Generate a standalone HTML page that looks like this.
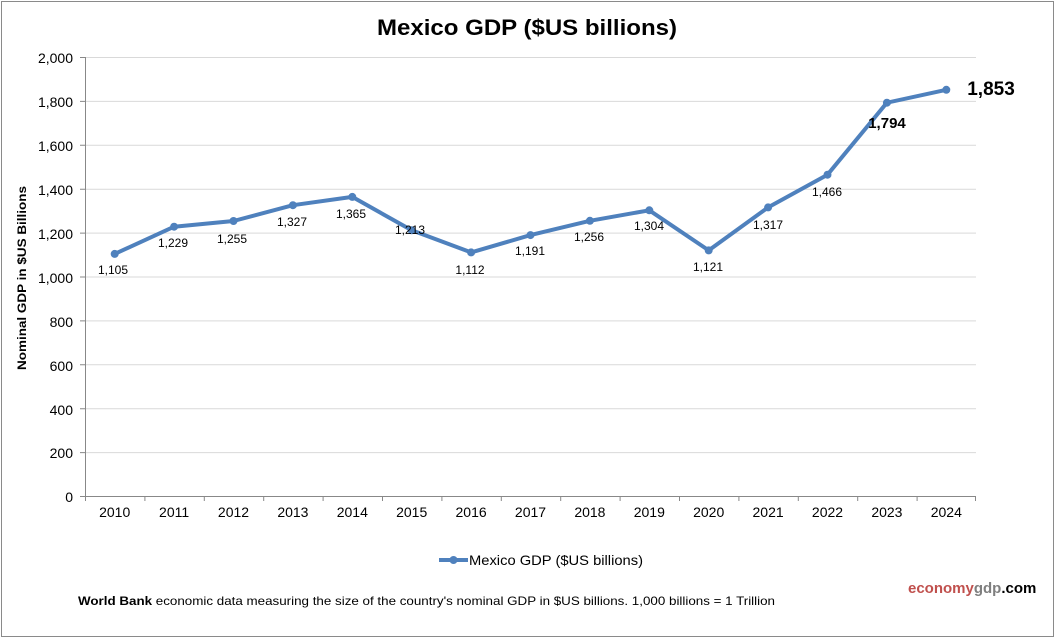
<!DOCTYPE html>
<html><head><meta charset="utf-8"><style>
html,body{margin:0;padding:0;background:#fff;}
svg{display:block;font-family:"Liberation Sans",Arial,sans-serif;}
</style></head><body>
<svg width="1056" height="639" viewBox="0 0 1056 639">
<rect x="1.5" y="1.5" width="1052" height="635" fill="#fff" stroke="#8a8a8a" stroke-width="1"/>
<text x="377" y="35" font-size="22" font-weight="bold" textLength="300" lengthAdjust="spacingAndGlyphs">Mexico GDP ($US billions)</text>
<g stroke="#d9d9d9" stroke-width="1">
<line x1="85" x2="976" y1="57.5" y2="57.5"/>
<line x1="85" x2="976" y1="101.4" y2="101.4"/>
<line x1="85" x2="976" y1="145.3" y2="145.3"/>
<line x1="85" x2="976" y1="189.2" y2="189.2"/>
<line x1="85" x2="976" y1="233.1" y2="233.1"/>
<line x1="85" x2="976" y1="277" y2="277"/>
<line x1="85" x2="976" y1="320.9" y2="320.9"/>
<line x1="85" x2="976" y1="364.8" y2="364.8"/>
<line x1="85" x2="976" y1="408.7" y2="408.7"/>
<line x1="85" x2="976" y1="452.6" y2="452.6"/>
</g>
<g stroke="#888" stroke-width="1">
<line x1="85.5" x2="85.5" y1="57" y2="496.5"/>
<line x1="85" x2="976" y1="496.5" y2="496.5"/>
<path d="M80 57.5H85M80 101.4H85M80 145.3H85M80 189.2H85M80 233.1H85M80 277H85M80 320.9H85M80 364.8H85M80 408.7H85M80 452.6H85M80 496.5H85"/>
<path d="M85.5 496V501M144.9 496V501M204.3 496V501M263.7 496V501M323.1 496V501M382.5 496V501M441.9 496V501M501.3 496V501M560.7 496V501M620.1 496V501M679.5 496V501M738.9 496V501M798.3 496V501M857.7 496V501M917.1 496V501M975.5 496V501"/>
</g>
<g font-size="14" text-anchor="end" fill="#000">
<text x="73" y="63">2,000</text><text x="73" y="107">1,800</text><text x="73" y="151">1,600</text>
<text x="73" y="195">1,400</text><text x="73" y="239">1,200</text><text x="73" y="283">1,000</text>
<text x="73" y="327">800</text><text x="73" y="371">600</text><text x="73" y="415">400</text>
<text x="73" y="458">200</text><text x="73" y="502">0</text>
</g>
<g font-size="14" text-anchor="middle">
<text x="114.7" y="517">2010</text><text x="174.1" y="517">2011</text><text x="233.5" y="517">2012</text>
<text x="292.9" y="517">2013</text><text x="352.3" y="517">2014</text><text x="411.7" y="517">2015</text>
<text x="471.1" y="517">2016</text><text x="530.5" y="517">2017</text><text x="589.9" y="517">2018</text>
<text x="649.3" y="517">2019</text><text x="708.7" y="517">2020</text><text x="768.1" y="517">2021</text>
<text x="827.5" y="517">2022</text><text x="886.9" y="517">2023</text><text x="946.3" y="517">2024</text>
</g>
<text transform="translate(26,370) rotate(-90)" font-size="12" font-weight="bold" textLength="184" lengthAdjust="spacingAndGlyphs">Nominal GDP in $US  Billions</text>
<polyline fill="none" stroke="#4f81bd" stroke-width="4" stroke-linejoin="round" points="114.7,253.9 174.1,226.7 233.5,221 292.9,205.2 352.3,196.9 411.7,230.3 471.1,252.4 530.5,235.1 589.9,220.8 649.3,210.3 708.7,250.4 768.1,207.4 827.5,174.7 886.9,102.7 946.3,89.8"/>
<g fill="#4f81bd">
<circle cx="114.7" cy="253.9" r="4"/><circle cx="174.1" cy="226.7" r="4"/><circle cx="233.5" cy="221" r="4"/>
<circle cx="292.9" cy="205.2" r="4"/><circle cx="352.3" cy="196.9" r="4"/><circle cx="411.7" cy="230.3" r="4"/>
<circle cx="471.1" cy="252.4" r="4"/><circle cx="530.5" cy="235.1" r="4"/><circle cx="589.9" cy="220.8" r="4"/>
<circle cx="649.3" cy="210.3" r="4"/><circle cx="708.7" cy="250.4" r="4"/><circle cx="768.1" cy="207.4" r="4"/>
<circle cx="827.5" cy="174.7" r="4"/><circle cx="886.9" cy="102.7" r="4"/><circle cx="946.3" cy="89.8" r="4"/>
</g>
<g font-size="12" text-anchor="middle">
<text x="113" y="274">1,105</text><text x="173" y="247">1,229</text><text x="232" y="243">1,255</text>
<text x="292" y="226">1,327</text><text x="351" y="218">1,365</text><text x="410" y="234">1,213</text>
<text x="470" y="274">1,112</text><text x="530" y="255">1,191</text><text x="589" y="241">1,256</text>
<text x="649" y="230">1,304</text><text x="708" y="271">1,121</text><text x="768" y="229">1,317</text>
<text x="827" y="196">1,466</text>
</g>
<text x="887" y="128" font-size="15" font-weight="bold" text-anchor="middle">1,794</text>
<text x="991" y="95" font-size="19" font-weight="bold" text-anchor="middle">1,853</text>
<line x1="439" x2="468" y1="560" y2="560" stroke="#4f81bd" stroke-width="4"/>
<circle cx="453.5" cy="560" r="4" fill="#4f81bd"/>
<text x="469" y="565" font-size="14" textLength="174" lengthAdjust="spacingAndGlyphs">Mexico GDP ($US billions)</text>
<text x="908" y="593" font-size="15" font-weight="bold"><tspan fill="#c0504d">economy</tspan><tspan fill="#7f7f7f">gdp</tspan><tspan fill="#000">.com</tspan></text>
<text x="78" y="605" font-size="12" textLength="697" lengthAdjust="spacingAndGlyphs"><tspan font-weight="bold">World Bank</tspan> economic data  measuring the size of the country's nominal GDP in $US billions. 1,000 billions = 1 Trillion</text>
</svg>
</body></html>
